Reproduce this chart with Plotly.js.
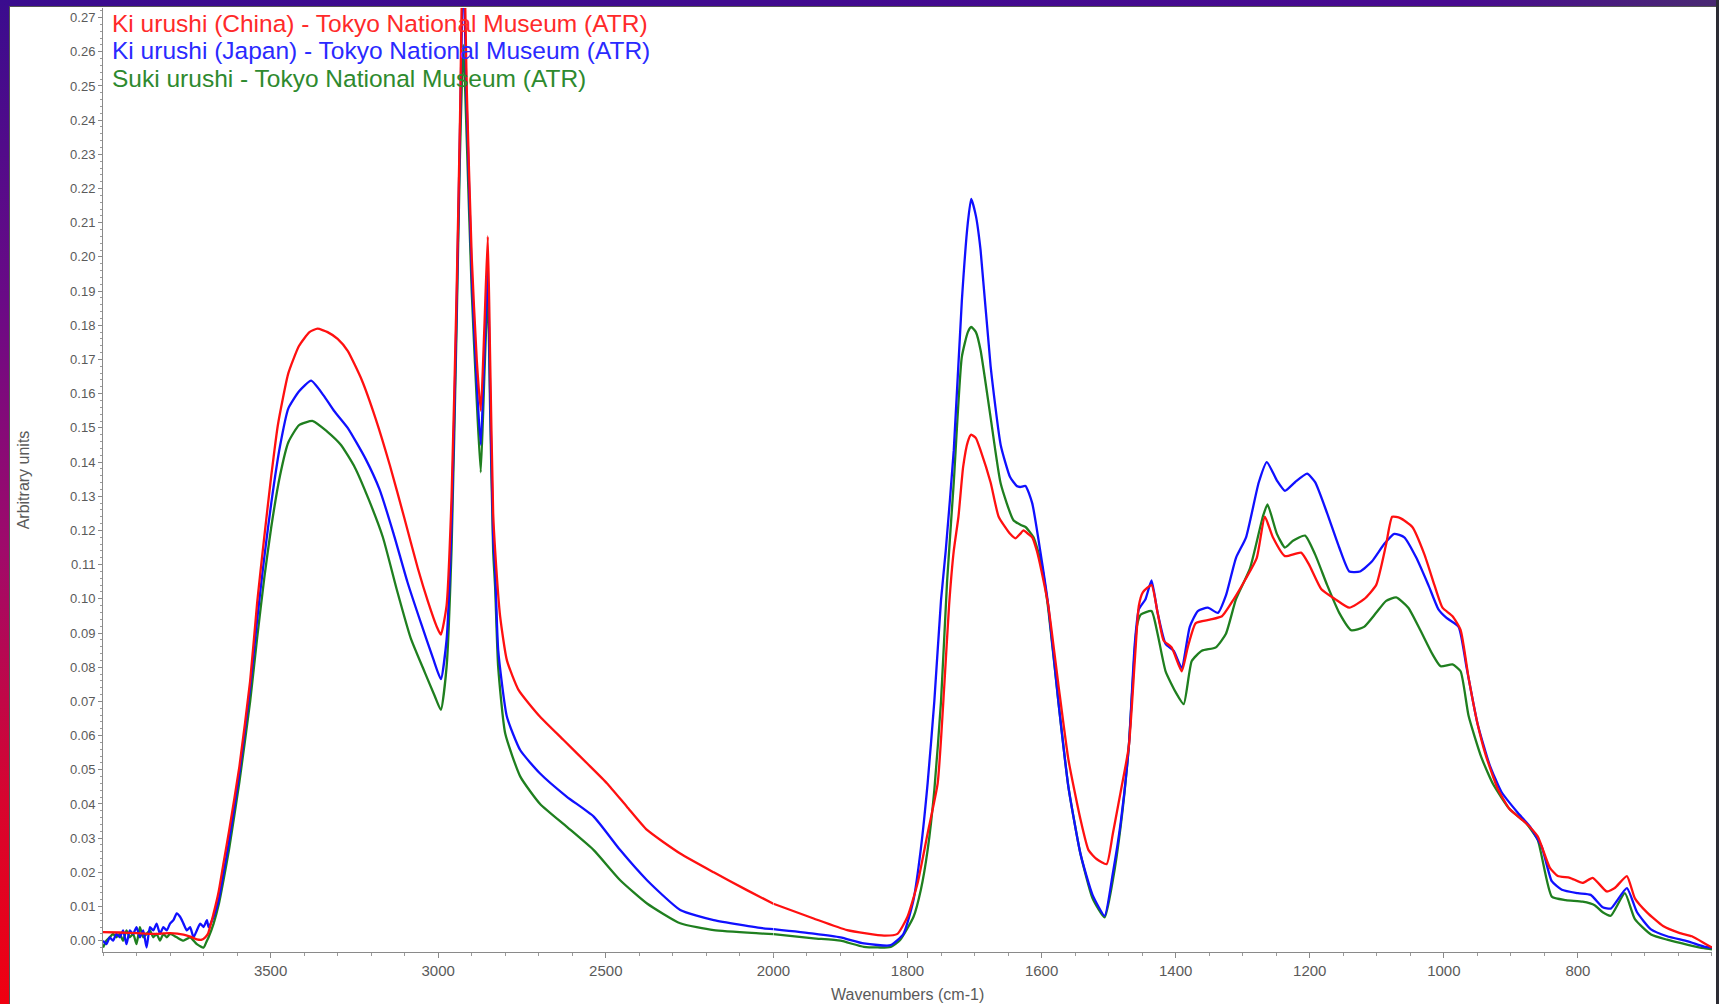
<!DOCTYPE html>
<html>
<head>
<meta charset="utf-8">
<script src="https://cdn.plot.ly/plotly-3.0.1.min.js"></script>
<style>
  html, body { margin: 0; padding: 0; width: 1719px; height: 1004px; overflow: hidden; background: #ffffff; }
  #topbar { position: absolute; left: 0; top: 0; width: 1719px; height: 6px; background: linear-gradient(to right, #3a0c8e 0%, #480a90 85%, #4a2a72 100%); }
  #leftbar { position: absolute; left: 0; top: 0; width: 9px; height: 1004px; background: linear-gradient(to bottom, #3a0c8e 0%, #6a0a86 30%, #a00a6a 55%, #d8052e 80%, #f00010 100%); }
  #rightbar { position: absolute; right: 0; top: 0; width: 3px; height: 1004px; background: #2c2c34; }
  #panel { position: absolute; left: 9px; top: 6px; right: 3px; bottom: 0; background: #ffffff; border-left: 1px solid #555; border-top: 1px solid #555; }
  #chart { position: absolute; left: 0; top: 0; width: 1719px; height: 1004px; }
</style>
</head>
<body>
<div id="topbar"></div>
<div id="leftbar"></div>
<div id="rightbar"></div>
<div id="panel"></div>
<div id="chart"></div>
<script>
// ---- Data (wavenumber cm-1, absorbance in arbitrary units) ----
const seriesNames = [
  "Ki urushi (China) - Tokyo National Museum (ATR)",
  "Ki urushi (Japan) - Tokyo National Museum (ATR)",
  "Suki urushi - Tokyo National Museum (ATR)"
];
const seriesColors = ["#ff1010", "#1010ff", "#1f7f1f"];
const textColors = ["#ff2a2a", "#2a2aff", "#2e8a2e"];

const chinaSpectrum = [
  [4000,0.0025],[3950,0.0024],[3900,0.0022],[3850,0.0020],[3800,0.0022],[3760,0.0018],[3740,0.0012],[3720,0.0004],[3705,0.0003],[3695,0.0010],
  [3687,0.0020],[3670,0.0080],[3655,0.0143],[3640,0.0230],[3624,0.0320],[3593,0.0510],[3561,0.0760],[3540,0.0990],[3519,0.1180],[3498,0.1360],
  [3478,0.1510],[3447,0.1660],[3415,0.1740],[3384,0.1780],[3360,0.1790],[3330,0.1780],[3300,0.1760],[3270,0.1725],[3228,0.1640],[3186,0.1525],
  [3144,0.1390],[3102,0.1240],[3061,0.1090],[3030,0.0990],[3005,0.0920],[2992,0.0895],[2975,0.0980],[2960,0.1300],[2945,0.1900],[2935,0.2400],
  [2925,0.3000],[2915,0.2500],[2900,0.2000],[2885,0.1700],[2873,0.1550],[2862,0.1800],[2852,0.2060],[2845,0.1700],[2836,0.1250],[2830,0.1140],
  [2815,0.0947],[2795,0.0820],[2760,0.0733],[2696,0.0655],[2626,0.0587],[2556,0.0519],[2496,0.0460],[2437,0.0392],[2377,0.0324],[2278,0.0255],
  [2178,0.0200],[2079,0.0148],[2000,0.0108],[1940,0.0065],[1890,0.0031],[1835,0.0015],[1815,0.0020],[1800,0.0070],[1785,0.0168],[1770,0.0314],
  [1755,0.0460],[1745,0.0750],[1738,0.0980],[1731,0.1140],[1724,0.1240],[1717,0.1386],[1710,0.1460],[1705,0.1480],[1698,0.1470],[1691,0.1434],
  [1676,0.1340],[1664,0.1240],[1647,0.1190],[1639,0.1177],[1632,0.1190],[1627,0.1200],[1620,0.1190],[1614,0.1180],[1607,0.1140],[1600,0.1080],
  [1590,0.0980],[1575,0.0750],[1560,0.0530],[1542,0.0355],[1530,0.0265],[1518,0.0239],[1503,0.0224],[1494,0.0310],[1482,0.0436],[1470,0.0566],
  [1461,0.0818],[1455,0.0979],[1449,0.1019],[1436,0.1040],[1427,0.0960],[1418,0.0878],[1406,0.0858],[1391,0.0788],[1382,0.0858],[1370,0.0929],
  [1349,0.0939],[1331,0.0949],[1313,0.1000],[1295,0.1060],[1279,0.1120],[1267,0.1240],[1255,0.1180],[1237,0.1125],[1213,0.1135],[1201,0.1100],
  [1183,0.1029],[1162,0.0999],[1141,0.0974],[1119,0.0999],[1101,0.1040],[1086,0.1160],[1077,0.1240],[1065,0.1236],[1047,0.1210],[1029,0.1130],
  [1014,0.1040],[1002,0.0974],[987,0.0949],[975,0.0909],[963,0.0768],[950,0.0637],[938,0.0546],[920,0.0446],[902,0.0385],[878,0.0345],
  [860,0.0305],[842,0.0214],[830,0.0189],[812,0.0184],[793,0.0169],[778,0.0184],[757,0.0144],[745,0.0154],[727,0.0189],[715,0.0124],
  [697,0.0083],[673,0.0043],[649,0.0023],[630,0.0013],[609,-0.0010],[600,-0.0020]
];

const japanSpectrum = [
  [4000,0.000],[3990,-0.001],[3980,0.001],[3970,0.000],[3960,0.002],[3950,0.001],[3940,0.003],[3930,-0.001],[3920,0.003],[3910,0.002],
  [3900,0.004],[3890,0.001],[3880,0.003],[3870,-0.002],[3860,0.004],[3850,0.003],[3840,0.005],[3830,0.002],[3820,0.004],[3810,0.003],
  [3800,0.005],[3790,0.006],[3780,0.008],[3770,0.007],[3760,0.005],[3750,0.003],[3740,0.004],[3730,0.001],[3720,0.003],[3710,0.005],
  [3700,0.004],[3690,0.006],[3685,0.004],[3670,0.007],[3655,0.0118],[3640,0.020],[3624,0.029],[3593,0.049],[3561,0.074],[3540,0.094],
  [3519,0.112],[3498,0.128],[3472,0.1446],[3447,0.1557],[3415,0.1607],[3379,0.1638],[3342,0.1595],[3311,0.1550],[3270,0.1500],[3217,0.1410],
  [3175,0.1320],[3133,0.1190],[3092,0.1050],[3050,0.0925],[3015,0.0825],[2992,0.0765],[2975,0.088],[2960,0.122],[2945,0.185],[2935,0.237],
  [2925,0.285],[2915,0.245],[2900,0.195],[2885,0.163],[2873,0.145],[2862,0.172],[2852,0.197],[2845,0.160],[2836,0.118],[2830,0.108],
  [2821,0.085],[2795,0.0655],[2755,0.0557],[2696,0.0489],[2616,0.0421],[2536,0.0363],[2457,0.0265],[2377,0.0177],[2278,0.0090],[2178,0.0060],
  [2029,0.0036],[2000,0.0034],[1940,0.0021],[1900,0.0010],[1865,-0.0008],[1825,-0.0013],[1806,0.0020],[1791,0.0120],[1780,0.0270],[1770,0.0460],
  [1760,0.0700],[1750,0.0996],[1743,0.1140],[1731,0.1434],[1719,0.1870],[1710,0.2100],[1705,0.2170],[1698,0.2120],[1691,0.2020],[1676,0.1680],
  [1661,0.1450],[1647,0.1356],[1637,0.1330],[1632,0.1327],[1624,0.1330],[1614,0.1280],[1602,0.1140],[1590,0.0980],[1575,0.0700],[1560,0.0450],
  [1542,0.0254],[1524,0.0134],[1506,0.0073],[1494,0.0194],[1482,0.0345],[1470,0.0566],[1461,0.0868],[1455,0.0969],[1445,0.0999],[1436,0.1054],
  [1427,0.0960],[1415,0.0868],[1403,0.0848],[1391,0.0798],[1379,0.0918],[1367,0.0964],[1352,0.0974],[1337,0.0959],[1325,0.1010],[1310,0.1120],
  [1295,0.1180],[1276,0.1341],[1264,0.1400],[1249,0.1346],[1237,0.1316],[1222,0.1341],[1204,0.1366],[1192,0.1341],[1174,0.1250],[1156,0.1150],
  [1141,0.1080],[1125,0.1080],[1107,0.1110],[1089,0.1160],[1074,0.1190],[1059,0.1180],[1041,0.1120],[1023,0.1040],[1008,0.0969],[996,0.0944],
  [978,0.0918],[966,0.0798],[950,0.0637],[932,0.0516],[914,0.0435],[890,0.0375],[872,0.0335],[854,0.0275],[839,0.0174],[824,0.0149],
  [800,0.0139],[781,0.0134],[763,0.0098],[751,0.0094],[727,0.0154],[712,0.0084],[691,0.0033],[667,0.0013],[636,-0.0002],[612,-0.0017],[600,-0.0020]
];

const sukiSpectrum = [
  [4000,-0.002],[3990,0.000],[3980,0.001],[3970,0.002],[3960,0.001],[3950,0.002],[3940,0.000],[3930,0.003],[3920,0.001],[3910,0.002],
  [3900,-0.001],[3890,0.004],[3880,0.001],[3870,0.002],[3860,0.003],[3850,0.001],[3840,0.002],[3830,0.000],[3820,0.002],[3810,0.001],
  [3800,0.002],[3780,0.001],[3760,0.000],[3740,0.001],[3720,-0.001],[3700,-0.002],[3690,0.000],[3685,0.001],[3670,0.005],[3655,0.0105],
  [3640,0.018],[3624,0.0267],[3593,0.0465],[3561,0.070],[3540,0.0887],[3519,0.106],[3498,0.121],[3472,0.136],[3447,0.1458],[3415,0.1508],
  [3374,0.152],[3332,0.1490],[3290,0.1450],[3249,0.1385],[3207,0.1290],[3165,0.1180],[3123,0.1025],[3082,0.0885],[3040,0.0785],[3010,0.0715],
  [2992,0.0675],[2975,0.080],[2960,0.115],[2945,0.180],[2935,0.230],[2925,0.262],[2915,0.235],[2900,0.190],[2885,0.158],[2873,0.137],
  [2862,0.166],[2852,0.190],[2845,0.155],[2836,0.114],[2830,0.103],[2821,0.080],[2800,0.0606],[2755,0.048],[2696,0.040],[2616,0.0333],
  [2536,0.0265],[2457,0.0177],[2377,0.0109],[2278,0.0051],[2178,0.0031],[2029,0.0021],[2000,0.0019],[1940,0.0007],[1900,0.0000],[1865,-0.0018],
  [1825,-0.0018],[1811,0.0002],[1791,0.0070],[1780,0.0150],[1770,0.0265],[1760,0.0440],[1750,0.0700],[1741,0.1050],[1731,0.1340],[1719,0.1707],
  [1710,0.1780],[1705,0.1795],[1698,0.1780],[1691,0.1727],[1676,0.1530],[1661,0.1337],[1642,0.1230],[1630,0.1215],[1624,0.1210],[1612,0.1180],
  [1600,0.1100],[1590,0.0970],[1575,0.0700],[1560,0.0450],[1542,0.0254],[1524,0.0124],[1506,0.0068],[1494,0.0174],[1482,0.0335],[1470,0.0566],
  [1458,0.0918],[1452,0.0954],[1436,0.0964],[1427,0.0898],[1415,0.0788],[1400,0.0727],[1388,0.0692],[1376,0.0818],[1361,0.0848],[1340,0.0858],
  [1325,0.0898],[1310,0.0999],[1289,0.1090],[1270,0.1240],[1263,0.1276],[1249,0.1190],[1237,0.1150],[1225,0.1170],[1207,0.1185],[1192,0.1130],
  [1174,0.1040],[1156,0.0959],[1138,0.0908],[1119,0.0918],[1101,0.0959],[1086,0.0994],[1071,0.1004],[1053,0.0974],[1035,0.0908],[1017,0.0838],
  [1005,0.0803],[987,0.0808],[975,0.0788],[963,0.0657],[944,0.0536],[926,0.0456],[902,0.0385],[878,0.0345],[860,0.0295],[839,0.0129],
  [818,0.0119],[793,0.0114],[775,0.0104],[763,0.0083],[751,0.0073],[730,0.0139],[715,0.0063],[691,0.0018],[667,0.0003],[636,-0.0012],
  [612,-0.0022],[600,-0.0025]
];

const spectra = [chinaSpectrum, japanSpectrum, sukiSpectrum];
const leftTicks = [3500, 3000, 2500, 2000];
const rightTicks = [1800, 1600, 1400, 1200, 1000, 800];
const breakWn = 2000;
const xTitle = "Wavenumbers (cm-1)";
const yTitle = "Arbitrary units";

// ---- Build traces: the x axis changes scale at 2000 cm-1 (two linked axes) ----
const traces = [];
const drawOrder = [2, 1, 0];
drawOrder.forEach(i => {
  const s = spectra[i];
  const left = s.filter(p => p[0] >= breakWn);
  const right = s.filter(p => p[0] <= breakWn);
  const line = { color: seriesColors[i], width: 2.3, shape: 'spline', smoothing: 0.5 };
  traces.push({ type: 'scatter', mode: 'lines', name: seriesNames[i], x: left.map(p => p[0]), y: left.map(p => p[1]),
    xaxis: 'x', yaxis: 'y', line: line, showlegend: false, hoverinfo: 'x+y' });
  traces.push({ type: 'scatter', mode: 'lines', name: seriesNames[i], x: right.map(p => p[0]), y: right.map(p => p[1]),
    xaxis: 'x2', yaxis: 'y', line: line, showlegend: false, hoverinfo: 'x+y' });
});

const tickFont = { family: 'Liberation Sans, Arial, sans-serif', size: 15, color: '#5a5a5a' };
const axisCommon = {
  showgrid: false, zeroline: false, showline: true, linecolor: '#8a8a8a', linewidth: 1,
  ticks: 'outside', ticklen: 5, tickcolor: '#8a8a8a', tickfont: tickFont, anchor: 'y', fixedrange: true
};

const layout = {
  width: 1719, height: 1004,
  margin: { l: 103, r: 7, t: 8, b: 52 },
  paper_bgcolor: 'rgba(0,0,0,0)', plot_bgcolor: 'rgba(0,0,0,0)',
  showlegend: false,
  xaxis: Object.assign({}, axisCommon, {
    domain: [0, 2000 / 4800], range: [4000, 1999.9], tickmode: 'array', tickvals: leftTicks,
    ticktext: leftTicks.map(String),
    minor: { dtick: 100, tick0: 0, ticks: 'outside', ticklen: 3, tickcolor: '#9a9a9a' }
  }),
  xaxis2: Object.assign({}, axisCommon, {
    domain: [2000 / 4800, 1], range: [2000, 600], tickmode: 'array', tickvals: rightTicks,
    ticktext: rightTicks.map(String),
    minor: { dtick: 50, tick0: 0, ticks: 'outside', ticklen: 3, tickcolor: '#9a9a9a' }
  }),
  yaxis: {
    range: [-0.0033, 0.2728], tick0: 0, dtick: 0.01, tickformat: '.2f',
    showgrid: false, zeroline: false, showline: true, linecolor: '#8a8a8a', linewidth: 1,
    ticks: 'outside', ticklen: 4, tickcolor: '#8a8a8a',
    tickfont: { family: 'Liberation Sans, Arial, sans-serif', size: 13, color: '#5a5a5a' },
    minor: { dtick: 0.002, tick0: 0, ticks: 'outside', ticklen: 2, tickcolor: '#9a9a9a' },
    title: { text: yTitle, standoff: 36, font: { family: 'Liberation Sans, Arial, sans-serif', size: 16, color: '#5a5a5a' } },
    fixedrange: true
  },
  annotations: [
    { xref: 'paper', yref: 'paper', x: 0.5, y: -0.045, xanchor: 'center', yanchor: 'middle', showarrow: false,
      text: xTitle, font: { family: 'Liberation Sans, Arial, sans-serif', size: 16, color: '#5a5a5a' } }
  ].concat(seriesNames.map((name, i) => ({
    xref: 'paper', yref: 'paper', x: 0.0043, y: 0.9841 - i * 0.0292, xanchor: 'left', yanchor: 'middle',
    showarrow: false, text: name, font: { family: 'Liberation Sans, Arial, sans-serif', size: 24.5, color: textColors[i] }
  })))
};

Plotly.newPlot('chart', traces, layout, { displayModeBar: false, staticPlot: true });
</script>
</body>
</html>
